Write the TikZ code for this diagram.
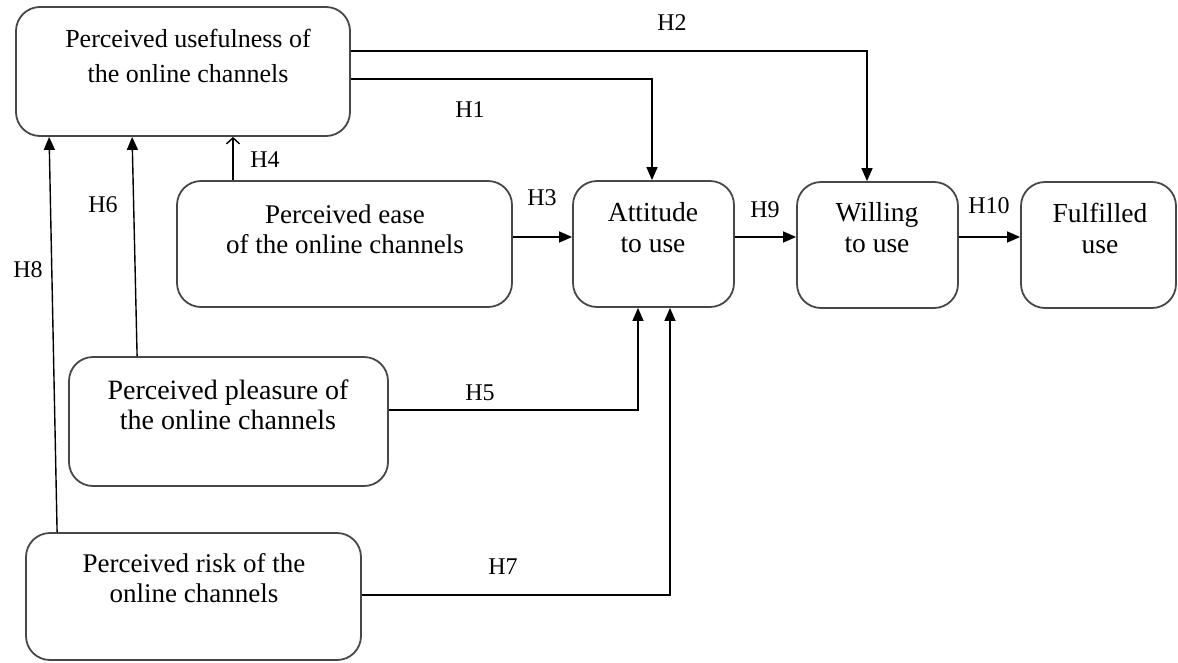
\documentclass[tikz,border=0pt]{standalone}
\usepackage{fontspec}
\setmainfont{Liberation Serif}
\usetikzlibrary{arrows.meta}
\begin{document}
\begin{tikzpicture}[x=1pt,y=-1pt,
  box/.style={draw=black!72, line width=1.8pt, rounded corners=24pt, inner sep=0pt},
  lbl/.style={align=center, inner sep=0pt, text=black},
  hyp/.style={inner sep=0pt, font=\fontsize{24}{28}\selectfont},
  arr/.style={line width=1.4pt, -{Triangle[length=13pt,width=11pt]}},
  openarr/.style={line width=1.4pt, -{Straight Barb[length=6pt,width=13pt]}}]
\useasboundingbox (0,0) rectangle (1178,662);
% boxes
\node[box, minimum width=334pt, minimum height=129pt] (pu) at (183,71.5) {};
\node[box, minimum width=335pt, minimum height=126pt] (pe) at (344.5,244) {};
\node[box, minimum width=161pt, minimum height=126pt] (at) at (653.5,244) {};
\node[box, minimum width=161pt, minimum height=126pt] (wi) at (877.5,245) {};
\node[box, minimum width=155pt, minimum height=126pt] (fu) at (1098.5,245) {};
\node[box, minimum width=319pt, minimum height=129pt] (pp) at (228.5,421.5) {};
\node[box, minimum width=335pt, minimum height=127pt] (pr) at (193.5,596.5) {};
% texts
\node[lbl, font=\fontsize{26}{35}\selectfont] (put) at (188,56) {Perceived usefulness of\\the online channels};
\node[lbl, font=\fontsize{27}{30}\selectfont] (pet) at (345,229) {Perceived ease\\of the online channels};
\node[lbl, font=\fontsize{27.5}{31}\selectfont] (att) at (653,228) {Attitude\\to use};
\node[lbl, font=\fontsize{27.5}{31}\selectfont] (wit) at (877,228) {Willing\\to use};
\node[lbl, font=\fontsize{27.5}{31}\selectfont] (fut) at (1100,228) {Fulfilled\\use};
\node[lbl, font=\fontsize{28}{30}\selectfont] (ppt) at (228,405) {Perceived pleasure of\\the online channels};
\node[lbl, font=\fontsize{27}{30}\selectfont] (prt) at (194,578) {Perceived risk of the\\online channels};
% helper coordinates
\coordinate (c2) at (867,51);
\coordinate (c1) at (652,79);
\coordinate (c3) at (0,237);
\coordinate (c4) at (233,0);
\coordinate (c5) at (638,410);
\coordinate (c7) at (670,595);
% connectors
\draw[arr] (pu.east |- c2) -| (c2 |- wi.north);
\draw[arr] (pu.east |- c1) -| (c1 |- at.north);
\draw[arr] (pe.east |- c3) -- (at.west |- c3);
\draw[arr] (at.east |- c3) -- (wi.west |- c3);
\draw[arr] (wi.east |- c3) -- (fu.west |- c3);
\draw[openarr] (pe.north -| c4) -- (pu.south -| c4);
\draw[arr] (pp.east |- c5) -| (c5 |- at.south);
\draw[arr] (pr.east |- c7) -| (c7 |- at.south);
\draw[arr] ([xshift=69pt]pp.north west) -- ([xshift=117pt]pu.south west);
\draw[arr] ([xshift=32pt]pr.north west) -- ([xshift=34pt]pu.south west);
% hypothesis labels
\node[hyp] (h1) at (470,110) {H1};
\node[hyp] (h2) at (672,23) {H2};
\node[hyp] (h3) at (542,198) {H3};
\node[hyp] (h4) at (265,160) {H4};
\node[hyp] (h5) at (480,393) {H5};
\node[hyp] (h6) at (103,205) {H6};
\node[hyp] (h7) at (503,567) {H7};
\node[hyp] (h8) at (28,270) {H8};
\node[hyp] (h9) at (765,210) {H9};
\node[hyp] (h10) at (989,206) {H10};
\end{tikzpicture}
\end{document}
